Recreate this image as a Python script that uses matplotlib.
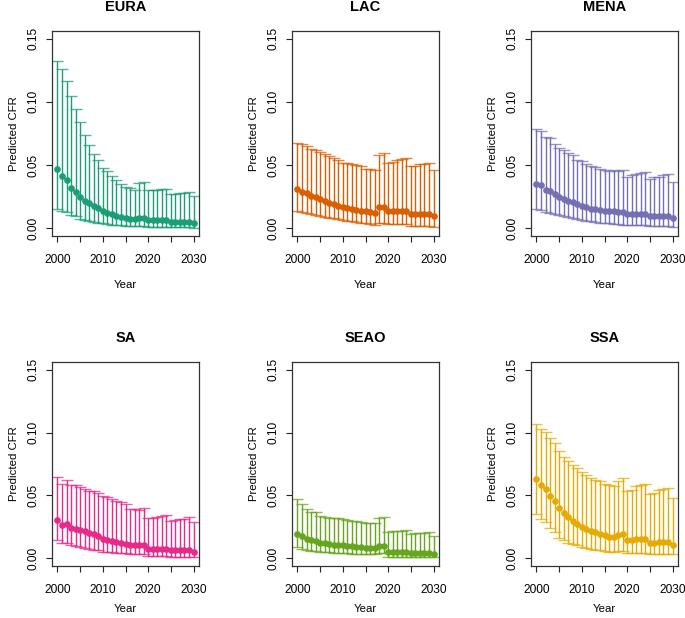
import matplotlib
matplotlib.use("Agg")
import matplotlib.pyplot as plt
import numpy as np

plt.rcParams['font.family'] = ['Liberation Sans', 'DejaVu Sans']

years = list(range(2000, 2031))
regions = ["EURA", "LAC", "MENA", "SA", "SEAO", "SSA"]
colors = ["#1B9E77", "#D95F02", "#7570B3", "#E7298A", "#66A61E", "#E6AB02"]

eura_est = [0.0467, 0.0417, 0.0380, 0.0320, 0.0290, 0.0248, 0.0220, 0.0198, 0.0174, 0.0158,
            0.0134, 0.0121, 0.0110, 0.0100, 0.0090, 0.0082, 0.0076, 0.0071, 0.0082, 0.0079,
            0.0066, 0.0066, 0.0066, 0.0066, 0.0066, 0.0053, 0.0053, 0.0053, 0.0053, 0.0053, 0.0042]
eura_up = [0.132, 0.126, 0.1165, 0.1047, 0.094, 0.084, 0.074, 0.066, 0.059, 0.054,
           0.048, 0.045, 0.0417, 0.038, 0.0353, 0.033, 0.032, 0.0306, 0.036, 0.0364,
           0.0300, 0.0302, 0.0306, 0.0308, 0.0310, 0.0270, 0.0275, 0.0280, 0.0282, 0.0288, 0.0256]
eura_lo = [0.0155, 0.0137, 0.0127, 0.0103, 0.0095, 0.0076, 0.0070, 0.0060, 0.0053, 0.0045,
           0.0040, 0.0035, 0.0030, 0.0027, 0.0024, 0.0020, 0.0018, 0.0016, 0.0018, 0.0018,
           0.0012, 0.0012, 0.0012, 0.0012, 0.0012, 0.0009, 0.0009, 0.0009, 0.0009, 0.0009, 0.0007]

lac_est = [0.0308, 0.0290, 0.0280, 0.0256, 0.0245, 0.0230, 0.0216, 0.0203, 0.0192, 0.0180,
           0.0169, 0.0160, 0.0153, 0.0145, 0.0140, 0.0134, 0.0127, 0.0120, 0.0166, 0.0169,
           0.0137, 0.0137, 0.0137, 0.0137, 0.0137, 0.0113, 0.0113, 0.0113, 0.0113, 0.0113, 0.0095]
lac_up = [0.0675, 0.0664, 0.0650, 0.0630, 0.0617, 0.0606, 0.0590, 0.0570, 0.0560, 0.0543,
          0.0520, 0.0514, 0.0506, 0.0504, 0.0490, 0.0472, 0.0467, 0.0464, 0.0577, 0.0596,
          0.0520, 0.0522, 0.0543, 0.0545, 0.0554, 0.0496, 0.0497, 0.0510, 0.0511, 0.0517, 0.0460]
lac_lo = [0.0134, 0.0127, 0.0120, 0.0110, 0.0103, 0.0097, 0.0090, 0.0084, 0.0079, 0.0071,
          0.0066, 0.0060, 0.0055, 0.0050, 0.0045, 0.0040, 0.0034, 0.0029, 0.0045, 0.0045,
          0.0032, 0.0032, 0.0032, 0.0032, 0.0032, 0.0020, 0.0020, 0.0020, 0.0020, 0.0020, 0.0013]

mena_est = [0.0348, 0.0343, 0.0303, 0.0293, 0.0269, 0.0248, 0.0235, 0.0214, 0.0208, 0.0192,
            0.0174, 0.0166, 0.0156, 0.0150, 0.0145, 0.0140, 0.0137, 0.0134, 0.0132, 0.0132,
            0.0116, 0.0116, 0.0116, 0.0116, 0.0116, 0.0098, 0.0098, 0.0098, 0.0098, 0.0098, 0.0082]
mena_up = [0.0783, 0.0772, 0.0722, 0.0714, 0.0670, 0.0635, 0.0620, 0.0593, 0.0583, 0.0543,
           0.0533, 0.0510, 0.0490, 0.0485, 0.0472, 0.0460, 0.0456, 0.0464, 0.0450, 0.0464,
           0.0410, 0.0420, 0.0427, 0.0435, 0.0443, 0.0390, 0.0406, 0.0410, 0.0424, 0.0432, 0.0366]
mena_lo = [0.0155, 0.0148, 0.0132, 0.0124, 0.0113, 0.0103, 0.0095, 0.0087, 0.0080, 0.0074,
           0.0066, 0.0060, 0.0055, 0.0050, 0.0045, 0.0042, 0.0039, 0.0036, 0.0032, 0.0030,
           0.0024, 0.0024, 0.0024, 0.0024, 0.0024, 0.0018, 0.0018, 0.0018, 0.0018, 0.0018, 0.0013]

sa_est = [0.0303, 0.0263, 0.0271, 0.0245, 0.0237, 0.0226, 0.0216, 0.0200, 0.0195, 0.0179,
          0.0158, 0.0150, 0.0142, 0.0132, 0.0126, 0.0118, 0.0105, 0.0104, 0.0104, 0.0103,
          0.0076, 0.0076, 0.0076, 0.0076, 0.0076, 0.0066, 0.0066, 0.0066, 0.0066, 0.0066, 0.0055]
sa_up = [0.0650, 0.0590, 0.0620, 0.0587, 0.0580, 0.0570, 0.0550, 0.0537, 0.0534, 0.0518,
         0.0495, 0.0490, 0.0474, 0.0453, 0.0447, 0.0430, 0.0392, 0.0392, 0.0387, 0.0397,
         0.0318, 0.0324, 0.0332, 0.0340, 0.0347, 0.0300, 0.0305, 0.0310, 0.0316, 0.0332, 0.0292]
sa_lo = [0.0145, 0.0120, 0.0120, 0.0103, 0.0097, 0.0090, 0.0082, 0.0076, 0.0071, 0.0066,
         0.0055, 0.0052, 0.0048, 0.0045, 0.0042, 0.0040, 0.0032, 0.0032, 0.0032, 0.0032,
         0.0018, 0.0018, 0.0018, 0.0018, 0.0018, 0.0013, 0.0013, 0.0013, 0.0013, 0.0013, 0.0010]

seao_est = [0.0197, 0.0182, 0.0158, 0.0145, 0.0137, 0.0126, 0.0121, 0.0116, 0.0110, 0.0108,
            0.0103, 0.0100, 0.0095, 0.0092, 0.0087, 0.0084, 0.0082, 0.0079, 0.0095, 0.0097,
            0.0050, 0.0050, 0.0050, 0.0050, 0.0050, 0.0042, 0.0042, 0.0042, 0.0042, 0.0042, 0.0037]
seao_up = [0.0470, 0.0429, 0.0392, 0.0371, 0.0366, 0.0337, 0.0332, 0.0324, 0.0320, 0.0318,
           0.0310, 0.0305, 0.0300, 0.0297, 0.0290, 0.0284, 0.0280, 0.0280, 0.0318, 0.0326,
           0.0213, 0.0218, 0.0221, 0.0221, 0.0224, 0.0197, 0.0200, 0.0203, 0.0205, 0.0210, 0.0182]
seao_lo = [0.0087, 0.0076, 0.0066, 0.0060, 0.0058, 0.0053, 0.0050, 0.0048, 0.0046, 0.0044,
           0.0042, 0.0040, 0.0039, 0.0038, 0.0037, 0.0036, 0.0035, 0.0034, 0.0045, 0.0045,
           0.0013, 0.0013, 0.0013, 0.0013, 0.0013, 0.0010, 0.0010, 0.0010, 0.0010, 0.0010, 0.0008]

ssa_est = [0.0634, 0.0584, 0.0553, 0.0497, 0.0455, 0.0397, 0.0358, 0.0326, 0.0297, 0.0276,
           0.0253, 0.0237, 0.0218, 0.0208, 0.0195, 0.0184, 0.0174, 0.0168, 0.0187, 0.0192,
           0.0150, 0.0150, 0.0152, 0.0152, 0.0155, 0.0126, 0.0126, 0.0128, 0.0131, 0.0134, 0.0110]
ssa_up = [0.1070, 0.1026, 0.1008, 0.0958, 0.0918, 0.0855, 0.0808, 0.0776, 0.0745, 0.0716,
          0.0684, 0.0660, 0.0642, 0.0626, 0.0613, 0.0592, 0.0587, 0.0574, 0.0613, 0.0642,
          0.0532, 0.0547, 0.0574, 0.0587, 0.0595, 0.0510, 0.0521, 0.0540, 0.0553, 0.0560, 0.0482]
ssa_lo = [0.0350, 0.0313, 0.0287, 0.0242, 0.0213, 0.0166, 0.0150, 0.0126, 0.0116, 0.0105,
          0.0092, 0.0084, 0.0076, 0.0071, 0.0066, 0.0060, 0.0055, 0.0053, 0.0060, 0.0060,
          0.0045, 0.0045, 0.0045, 0.0045, 0.0045, 0.0037, 0.0037, 0.0037, 0.0037, 0.0037, 0.0032]

estimates = [eura_est, lac_est, mena_est, sa_est, seao_est, ssa_est]
uppers = [eura_up, lac_up, mena_up, sa_up, seao_up, ssa_up]
lowers = [eura_lo, lac_lo, mena_lo, sa_lo, seao_lo, ssa_lo]

W, H = 685, 618
fig = plt.figure(figsize=(W / 100, H / 100), dpi=100)

lefts = [52, 292, 531]
rows = [(31, 236), (362, 566)]
title_y = [7, 338]
xlabel_pad = [10, 6]
pw = 147

for i, name in enumerate(regions):
    r, c = divmod(i, 3)
    top, bot = rows[r]
    ax = fig.add_axes([lefts[c] / W, 1 - bot / H, pw / W, (bot - top) / H])
    est = np.array(estimates[i])
    up = np.array(uppers[i])
    lo = np.array(lowers[i])
    yerr = np.vstack([est - lo, up - est])
    _, caps, bars = ax.errorbar(years, est, yerr=yerr, fmt='o', color=colors[i],
                                ms=3.8, mec=colors[i], ecolor=colors[i], elinewidth=1.0,
                                capsize=4.2, capthick=1.0)
    for cl in caps:
        cl.set_alpha(0.75)
    ax.set_xlim(1998.8, 2031.2)
    ax.set_ylim(-0.006, 0.156)
    ax.set_xticks(list(range(2000, 2031, 5)))
    ax.set_xticklabels(["2000", "", "2010", "", "2020", "", "2030"])
    ax.set_yticks([0.0, 0.05, 0.10, 0.15])
    ax.set_yticklabels(["0.00", "0.05", "0.10", "0.15"], rotation=90, va='center')
    ax.tick_params(axis='both', labelsize=8.6, length=4, width=0.8, color='#222222')
    ax.tick_params(axis='x', pad=9)
    ax.tick_params(axis='y', pad=5)
    for s in ax.spines.values():
        s.set_linewidth(0.9)
        s.set_color('#333333')
    cx = (lefts[c] + pw / 2) / W
    fig.text(cx, 1 - title_y[r] / H, name, fontsize=10.5, fontweight='bold',
             ha='center', va='center')
    ax.set_xlabel("Year", fontsize=8.2, labelpad=xlabel_pad[r])
    ax.set_ylabel("Predicted CFR", fontsize=8.2, labelpad=6)

fig.savefig("out.png", dpi=100)
